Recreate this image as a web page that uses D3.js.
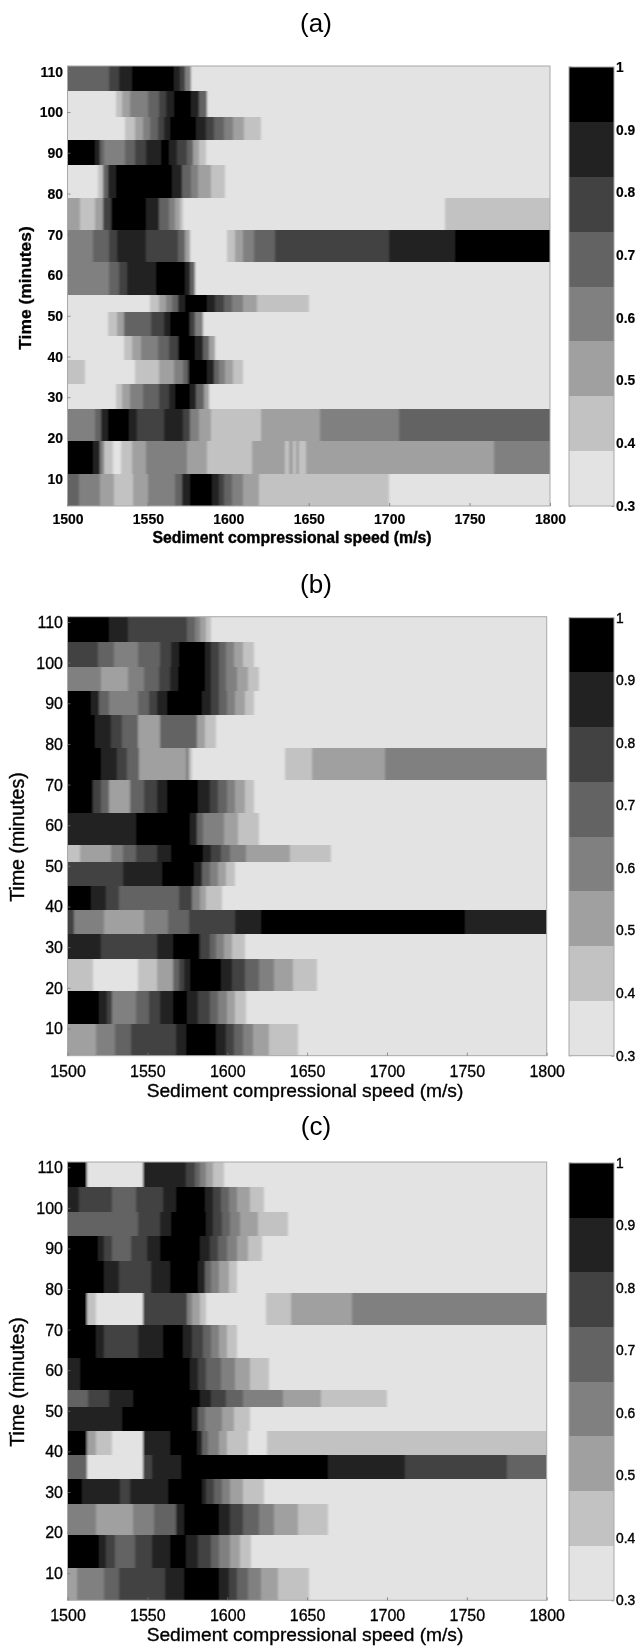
<!DOCTYPE html>
<html><head><meta charset="utf-8">
<script src="https://cdnjs.cloudflare.com/ajax/libs/d3/7.8.5/d3.min.js"></script>
<style>
html,body{margin:0;padding:0;background:#fff}
svg{display:block}
text{font-family:"Liberation Sans",Arial,sans-serif;fill:#000}
</style></head><body>
<svg id="chart" width="639" height="1646"></svg>
<script>
// ---- data -----------------------------------------------------------
const timeEdges = [111.3,105.1,98.9,93.1,87,79,71.1,63.1,55.1,51,45.1,39.2,33.2,27.1,19.3,11.2,3.3];
const timeTicks = [10,20,30,40,50,60,70,80,90,100,110];
const speedTicks = [1500,1550,1600,1650,1700,1750,1800];
const barTicks = [0.3,0.4,0.5,0.6,0.7,0.8,0.9,1];
const greys = ["#e3e3e3","#c2c2c2","#a0a0a0","#808080","#636363","#434343","#222222","#000000"];
const titles = ["(a)","(b)","(c)"];
const xTitle = "Sediment compressional speed (m/s)";
const yTitle = "Time (minutes)";

// each row, top to bottom: [upper speed of the run, normalised value of the run]
const panelARuns = [
 [[1526,.69],[1532,.78],[1540,.87],[1566,.96],[1570,.87],[1573,.78],[1577,.61],[1800,.34]],
 [[1530,.34],[1534,.43],[1539,.52],[1550,.61],[1557,.69],[1561,.78],[1566,.87],[1577,.96],[1582,.87],[1587,.69],[1800,.34]],
 [[1536,.34],[1542,.43],[1547,.52],[1551,.61],[1556,.69],[1560,.78],[1564,.87],[1580,.96],[1586,.87],[1591,.78],[1597,.69],[1603,.61],[1610,.52],[1620,.43],[1800,.34]],
 [[1517,.96],[1520,.87],[1523,.69],[1536,.61],[1542,.69],[1549,.78],[1558,.87],[1563,.96],[1568,.87],[1574,.78],[1578,.69],[1582,.52],[1586,.43],[1800,.34]],
 [[1519,.34],[1522,.43],[1525,.69],[1530,.87],[1565,.96],[1571,.87],[1577,.69],[1581,.61],[1589,.52],[1598,.43],[1800,.34]],
 [[1508,.52],[1517,.43],[1522,.52],[1527,.78],[1549,.96],[1557,.87],[1563,.69],[1567,.61],[1570,.52],[1572,.43],[1735,.34],[1800,.43]],
 [[1516,.61],[1526,.69],[1531,.78],[1549,.87],[1569,.78],[1573,.69],[1576,.52],[1599,.34],[1604,.43],[1609,.52],[1616,.61],[1629,.69],[1700,.78],[1741,.87],[1800,.96]],
 [[1526,.61],[1532,.69],[1537,.78],[1555,.87],[1573,.96],[1576,.87],[1579,.69],[1800,.34]],
 [[1551,.34],[1557,.43],[1561,.52],[1565,.61],[1569,.69],[1573,.87],[1587,.96],[1592,.87],[1597,.78],[1602,.69],[1609,.61],[1618,.52],[1650,.43],[1800,.34]],
 [[1525,.34],[1531,.43],[1535,.52],[1552,.69],[1560,.78],[1564,.87],[1576,.96],[1579,.78],[1584,.61],[1800,.34]],
 [[1535,.34],[1540,.43],[1546,.52],[1556,.61],[1563,.69],[1569,.78],[1579,.96],[1584,.87],[1588,.69],[1592,.52],[1800,.34]],
 [[1511,.43],[1542,.34],[1557,.43],[1566,.52],[1572,.61],[1575,.69],[1587,.96],[1591,.87],[1594,.69],[1598,.61],[1603,.52],[1609,.43],[1800,.34]],
 [[1530,.34],[1534,.43],[1539,.52],[1547,.61],[1557,.69],[1563,.78],[1567,.87],[1576,.96],[1580,.87],[1585,.69],[1588,.52],[1800,.34]],
 [[1517,.61],[1521,.69],[1525,.87],[1538,.96],[1543,.87],[1560,.78],[1572,.87],[1576,.78],[1582,.61],[1589,.52],[1620,.43],[1657,.52],[1706,.61],[1800,.69]],
 [[1516,.96],[1520,.87],[1523,.61],[1528,.43],[1533,.34],[1540,.43],[1549,.52],[1574,.61],[1587,.52],[1615,.43],[1635,.52],[1638,.43],[1640,.52],[1642,.43],[1644,.52],[1646,.43],[1648,.43],[1765,.52],[1800,.61]],
 [[1507,.69],[1520,.61],[1529,.52],[1541,.43],[1550,.52],[1567,.61],[1571,.69],[1576,.87],[1590,.96],[1594,.87],[1597,.78],[1602,.69],[1609,.61],[1619,.52],[1700,.43],[1800,.34]]
];
const panelBRuns = [
 [[1526,.96],[1538,.87],[1575,.78],[1580,.69],[1583,.61],[1587,.52],[1590,.43],[1800,.34]],
 [[1519,.78],[1529,.69],[1544,.61],[1558,.69],[1565,.78],[1570,.87],[1586,.96],[1590,.87],[1595,.78],[1599,.69],[1604,.61],[1610,.52],[1617,.43],[1800,.34]],
 [[1521,.61],[1538,.52],[1548,.61],[1557,.69],[1564,.78],[1569,.87],[1586,.96],[1590,.87],[1595,.78],[1599,.69],[1606,.61],[1613,.52],[1620,.43],[1800,.34]],
 [[1515,.96],[1520,.87],[1526,.69],[1544,.61],[1551,.69],[1556,.78],[1562,.87],[1584,.96],[1590,.87],[1595,.78],[1600,.69],[1605,.61],[1611,.52],[1617,.43],[1800,.34]],
 [[1517,.96],[1527,.87],[1534,.78],[1544,.69],[1558,.52],[1581,.69],[1586,.52],[1593,.43],[1800,.34]],
 [[1521,.96],[1531,.87],[1537,.78],[1545,.69],[1574,.52],[1576,.61],[1578,.43],[1636,.34],[1653,.43],[1699,.52],[1800,.61]],
 [[1516,.96],[1521,.78],[1526,.69],[1539,.52],[1548,.69],[1556,.78],[1562,.87],[1582,.96],[1589,.87],[1594,.78],[1600,.69],[1605,.61],[1611,.52],[1617,.43],[1800,.34]],
 [[1543,.87],[1577,.96],[1581,.87],[1585,.69],[1598,.61],[1607,.52],[1620,.43],[1800,.34]],
 [[1508,.43],[1527,.52],[1535,.61],[1543,.69],[1556,.78],[1565,.87],[1585,.96],[1590,.87],[1596,.78],[1602,.69],[1612,.61],[1639,.52],[1665,.43],[1800,.34]],
 [[1535,.78],[1559,.87],[1579,.96],[1584,.87],[1589,.69],[1594,.61],[1599,.52],[1605,.43],[1800,.34]],
 [[1515,.96],[1524,.87],[1532,.78],[1570,.69],[1578,.78],[1583,.61],[1587,.52],[1597,.43],[1800,.34]],
 [[1504,.78],[1523,.61],[1548,.52],[1563,.61],[1576,.69],[1605,.78],[1621,.87],[1749,.96],[1800,.87]],
 [[1521,.87],[1556,.78],[1566,.87],[1583,.96],[1589,.78],[1593,.69],[1598,.61],[1603,.52],[1611,.43],[1800,.34]],
 [[1516,.43],[1544,.34],[1556,.43],[1566,.52],[1570,.65],[1573,.78],[1577,.87],[1596,.96],[1603,.87],[1611,.78],[1620,.69],[1629,.61],[1641,.52],[1656,.43],[1800,.34]],
 [[1520,.96],[1525,.87],[1528,.78],[1543,.61],[1551,.69],[1558,.78],[1566,.87],[1575,.96],[1582,.87],[1589,.78],[1594,.69],[1600,.61],[1605,.52],[1612,.43],[1800,.34]],
 [[1518,.52],[1530,.61],[1540,.69],[1568,.78],[1574,.87],[1593,.96],[1599,.87],[1604,.78],[1610,.69],[1616,.61],[1626,.52],[1644,.43],[1800,.34]]
];
const panelCRuns = [
 [[1512,.96],[1547,.34],[1574,.87],[1580,.78],[1583,.69],[1587,.61],[1591,.52],[1598,.43],[1800,.34]],
 [[1507,.87],[1528,.78],[1543,.69],[1560,.78],[1568,.87],[1586,.96],[1591,.87],[1596,.78],[1601,.69],[1606,.61],[1614,.52],[1623,.43],[1800,.34]],
 [[1544,.69],[1558,.78],[1565,.87],[1587,.96],[1591,.87],[1597,.78],[1602,.69],[1608,.61],[1619,.52],[1638,.43],[1800,.34]],
 [[1519,.96],[1523,.87],[1528,.78],[1540,.69],[1550,.78],[1558,.87],[1583,.96],[1589,.87],[1594,.78],[1600,.69],[1606,.61],[1613,.52],[1622,.43],[1800,.34]],
 [[1523,.96],[1532,.87],[1552,.78],[1564,.87],[1582,.96],[1586,.87],[1590,.69],[1595,.61],[1601,.52],[1606,.43],[1800,.34]],
 [[1512,.96],[1518,.43],[1547,.34],[1575,.78],[1578,.61],[1583,.52],[1587,.43],[1624,.34],[1640,.43],[1678,.52],[1800,.61]],
 [[1518,.96],[1523,.87],[1544,.78],[1560,.87],[1572,.96],[1578,.87],[1585,.78],[1590,.69],[1595,.61],[1600,.52],[1606,.43],[1800,.34]],
 [[1508,.87],[1577,.96],[1582,.87],[1587,.78],[1596,.69],[1605,.61],[1614,.52],[1626,.43],[1800,.34]],
 [[1513,.69],[1526,.78],[1541,.87],[1583,.96],[1590,.87],[1599,.78],[1610,.69],[1635,.61],[1659,.52],[1700,.43],[1800,.34]],
 [[1534,.87],[1578,.96],[1582,.87],[1586,.69],[1597,.61],[1604,.52],[1614,.43],[1800,.34]],
 [[1512,.96],[1518,.52],[1528,.43],[1547,.34],[1564,.87],[1581,.96],[1584,.87],[1588,.69],[1595,.61],[1600,.52],[1613,.43],[1625,.34],[1800,.43]],
 [[1512,.69],[1547,.34],[1553,.78],[1571,.87],[1663,.96],[1711,.87],[1775,.78],[1800,.69]],
 [[1509,.96],[1533,.87],[1539,.78],[1563,.87],[1584,.96],[1587,.87],[1592,.78],[1597,.69],[1602,.61],[1610,.52],[1623,.43],[1800,.34]],
 [[1518,.61],[1541,.52],[1554,.61],[1568,.69],[1573,.87],[1595,.96],[1602,.87],[1610,.78],[1620,.69],[1629,.61],[1644,.52],[1663,.43],[1800,.34]],
 [[1520,.96],[1524,.87],[1530,.78],[1542,.69],[1553,.78],[1564,.87],[1574,.96],[1582,.87],[1590,.78],[1595,.69],[1602,.61],[1608,.52],[1615,.43],[1800,.34]],
 [[1506,.52],[1523,.61],[1532,.69],[1561,.78],[1573,.87],[1595,.96],[1601,.87],[1606,.78],[1613,.69],[1621,.61],[1632,.52],[1651,.43],[1800,.34]]
];

// ---- layout ----------------------------------------------------------
const layouts = [
 {runs:panelARuns, x0:67.5,x1:550,  top:66,   bottom:506,   titleY:32,  tickSize:14,tickW:"bold",  tickStroke:0.15, xT:{x:292,y:543,size:15.8,w:"bold",s:0.4}, yT:{x:25,y:288,size:17.4,w:"bold",s:0.3}, tickY:519},
 {runs:panelBRuns, x0:67.5,x1:546.7,top:616.7,bottom:1055.7,titleY:593, tickSize:16,tickW:"normal",tickStroke:0.3,xT:{x:305,y:1096.5,size:19.2,w:"normal",s:0.35},yT:{x:17,y:837,size:19.5,w:"normal",s:0.35}, tickY:1071},
 {runs:panelCRuns, x0:67.5,x1:546.7,top:1162, bottom:1600.3,titleY:1135,tickSize:16,tickW:"normal",tickStroke:0.3,xT:{x:305,y:1641,size:19.2,w:"normal",s:0.35},yT:{x:17,y:1382,size:19.5,w:"normal",s:0.35}, tickY:1615}
];
const barX0 = 569, barX1 = 614;

// ---- drawing ---------------------------------------------------------
const svg = d3.select("#chart");
const defs = svg.append("defs");
defs.append("filter").attr("id","soft").attr("x","-2%").attr("y","-2%").attr("width","104%").attr("height","104%")
    .append("feGaussianBlur").attr("stdDeviation","1.2 0.4");
defs.append("filter").attr("id","softBar").attr("x","-5%").attr("y","-2%").attr("width","110%").attr("height","104%")
    .append("feGaussianBlur").attr("stdDeviation","0.3 0.5");
defs.append("filter").attr("id","softText").attr("x","-5%").attr("y","-5%").attr("width","110%").attr("height","110%")
    .append("feGaussianBlur").attr("stdDeviation",0.45);

const color = d3.scaleQuantize().domain([0.3,1]).range(greys);

layouts.forEach((p,pi)=>{
  const g = svg.append("g");
  const x = d3.scaleLinear().domain([1500,1800]).range([p.x0,p.x1]);
  const y = d3.scaleLinear().domain([timeEdges[timeEdges.length-1],timeEdges[0]]).range([p.bottom,p.top]);
  const cb = d3.scaleLinear().domain([0.3,1]).range([p.bottom,p.top+1]);

  defs.append("clipPath").attr("id","clip"+pi).append("rect")
    .attr("x",p.x0).attr("y",p.top).attr("width",p.x1-p.x0).attr("height",p.bottom-p.top);

  // heat map
  const heat = g.append("g").attr("clip-path",`url(#clip${pi})`)
    .append("g").attr("filter","url(#soft)").attr("shape-rendering","crispEdges");
  p.runs.forEach((row,ri)=>{
    let start = 1500;
    row.forEach(([end,val])=>{
      // the outermost runs extend past the frame so the blur has no pale rim
      const a = start===1500 ? x(start)-6 : x(start);
      const b = end===1800 ? x(end)+6 : x(end);
      heat.append("rect")
        .attr("x",a).attr("width",b-a)
        .attr("y",y(timeEdges[ri])).attr("height",y(timeEdges[ri+1])-y(timeEdges[ri]))
        .attr("fill",color(val));
      start = end;
    });
  });

  // frame
  g.append("rect").attr("x",p.x0).attr("y",p.top).attr("width",p.x1-p.x0).attr("height",p.bottom-p.top)
    .attr("fill","none").attr("stroke","#a8a8a8").attr("stroke-width",1);

  const txt = g.append("g").attr("filter","url(#softText)");

  // axes
  const xAxis = d3.axisBottom(x).tickValues(speedTicks).tickFormat(d3.format("d")).tickSizeInner(-3).tickSizeOuter(0).tickPadding(0);
  const xg = txt.append("g").attr("transform",`translate(0,${p.bottom})`).call(xAxis);
  const yAxis = d3.axisLeft(y).tickValues(timeTicks).tickFormat(d3.format("d")).tickSizeInner(-3).tickSizeOuter(0).tickPadding(0);
  const yg = txt.append("g").attr("transform",`translate(${p.x0},0)`).call(yAxis);
  [xg,yg].forEach(a=>{
    a.select(".domain").remove();
    a.selectAll("line").attr("stroke","#777").attr("stroke-width",0.8);
    a.selectAll("text").style("font-family",'"Liberation Sans",Arial,sans-serif')
      .attr("font-size",p.tickSize).attr("font-weight",p.tickW).attr("stroke","#000").attr("stroke-width",p.tickStroke);
  });
  xg.selectAll("text").attr("dy",null).attr("y",p.tickY-p.bottom+p.tickSize*0.36);
  yg.selectAll("text").attr("x",-4.5).attr("dy","0.34em").attr("y",0);

  // axis titles
  txt.append("text").attr("x",p.xT.x).attr("y",p.xT.y).attr("text-anchor","middle")
    .attr("font-size",p.xT.size).attr("font-weight",p.xT.w).attr("stroke","#000").attr("stroke-width",p.xT.s).text(xTitle);
  txt.append("text").attr("transform",`translate(${p.yT.x},${p.yT.y}) rotate(-90)`).attr("text-anchor","middle").attr("dy","0.35em")
    .attr("font-size",p.yT.size).attr("font-weight",p.yT.w).attr("stroke","#000").attr("stroke-width",p.yT.s).text(yTitle);
  txt.append("text").attr("x",316).attr("y",p.titleY).attr("text-anchor","middle").attr("font-size",26).text(titles[pi]);

  // colour bar, one band per colour of the scale
  const bar = g.append("g").attr("filter","url(#softBar)").attr("shape-rendering","crispEdges");
  greys.forEach(c=>{
    const [lo,hi] = color.invertExtent(c);
    bar.append("rect").attr("x",barX0).attr("width",barX1-barX0)
      .attr("y",cb(hi)).attr("height",cb(lo)-cb(hi)).attr("fill",c);
  });
  g.append("rect").attr("x",barX0).attr("y",p.top+1).attr("width",barX1-barX0).attr("height",p.bottom-p.top-1)
    .attr("fill","none").attr("stroke","#a8a8a8").attr("stroke-width",1);
  const barAxis = d3.axisRight(cb).tickValues(barTicks).tickFormat(d3.format("")).tickSizeInner(-2.5).tickSizeOuter(0).tickPadding(0);
  const bg = txt.append("g").attr("transform",`translate(${barX1},0)`).call(barAxis);
  bg.select(".domain").remove();
  bg.selectAll("line").attr("stroke","#666").attr("stroke-width",0.8);
  bg.selectAll("text").style("font-family",'"Liberation Sans",Arial,sans-serif')
    .attr("x",2).attr("font-size",13.8).attr("font-weight",pi===0?"bold":"normal").attr("stroke","#000").attr("stroke-width",pi===0?0.15:0.4);
  // matching left-side tick marks on the bar
  txt.append("g").selectAll("line").data(barTicks).join("line")
    .attr("x1",barX0).attr("x2",barX0+2.5).attr("y1",d=>cb(d)).attr("y2",d=>cb(d))
    .attr("stroke","#666").attr("stroke-width",0.8);
});
</script>
</body></html>
